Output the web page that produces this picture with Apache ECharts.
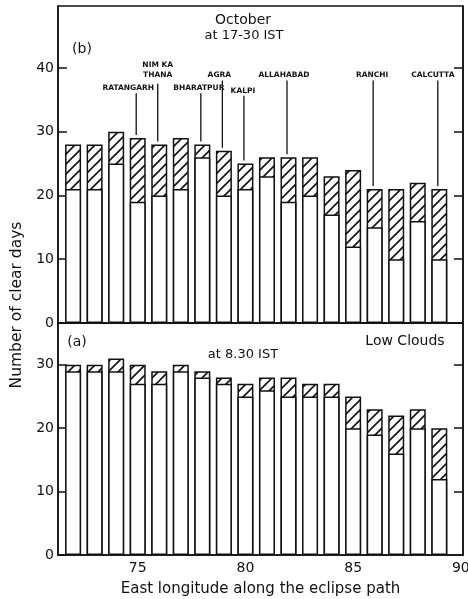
<!DOCTYPE html>
<html>
<head>
<meta charset="utf-8">
<script src="https://cdn.jsdelivr.net/npm/echarts@6/dist/echarts.min.js"></script>
<style>
  html, body { margin: 0; padding: 0; background: #fff; }
  #chart { width: 468px; height: 599px; }
</style>
</head>
<body>
<div id="chart"></div>
<script>
// Station longitudes (deg E) along the eclipse path
const longitude = [72, 73, 74, 75, 76, 77, 78, 79, 80, 81, 82, 83, 84, 85, 86, 87, 88, 89];

// (b) October, 17-30 IST: total bar height and its clear (unhatched) part
const eveningTotal = [28, 28, 30, 29, 28, 29, 28, 27, 25, 26, 26, 26, 23, 24, 21, 21, 22, 21];
const eveningClear = [21, 21, 25, 19, 20, 21, 26, 20, 21, 23, 19, 20, 17, 12, 15, 10, 16, 10];

// (a) 8.30 IST, low clouds
const morningTotal = [30, 30, 31, 30, 29, 30, 29, 28, 27, 28, 28, 27, 27, 25, 23, 22, 23, 20];
const morningClear = [29, 29, 29, 27, 27, 29, 28, 27, 25, 26, 25, 25, 25, 20, 19, 16, 20, 12];

// Named stations and the longitude of the bar each one points to
const stationNames = ['RATANGARH', 'NIM KA\nTHANA', 'BHARATPUR', 'AGRA', 'KALPI', 'ALLAHABAD', 'RANCHI', 'CALCUTTA'];
const stationLon = [75, 76, 78, 79, 80, 82, 86, 89];

// Tick labels
const xTickValues = [75, 80, 85, 90];
const yTicksTop = [0, 10, 20, 30, 40];
const yTicksBottom = [0, 10, 20, 30];

// ---- drawing ----
const FONT = 'DejaVu Sans';
const INK = '#111';

// diagonal "/" hatch pattern
function hatchPattern() {
  const s = 10;
  const c = document.createElement('canvas');
  c.width = s; c.height = s;
  const g = c.getContext('2d');
  g.fillStyle = '#fff';
  g.fillRect(0, 0, s, s);
  g.strokeStyle = INK;
  g.lineWidth = 1.6;
  g.beginPath();
  g.moveTo(-2, s + 2); g.lineTo(s + 2, -2);
  g.moveTo(-s / 2 - 2, s / 2 + 2); g.lineTo(s / 2 + 2, -s / 2 - 2);
  g.moveTo(s / 2 - 2, s * 1.5 + 2); g.lineTo(s * 1.5 + 2, s / 2 - 2);
  g.stroke();
  return c;
}
const hatch = { image: hatchPattern(), repeat: 'repeat' };

// vertical placement (in days) of each station caption
const captionLevel = [36.8, 39.7, 36.8, 38.8, 36.4, 38.8, 38.8, 38.8];
const captionShift = [-8, 0, -2, -3, -1, -3, -1, -5];

const pairs = (vals) => longitude.map((lon, i) => [lon, vals[i]]);

const X_MIN = 71.3, X_MAX = 90.1;

function xAxisFor(gridIndex, showLabels) {
  return {
    type: 'value', gridIndex, min: X_MIN, max: X_MAX,
    splitLine: { show: false },
    axisLine: { show: true, onZero: false, lineStyle: { color: INK, width: 1.5 } },
    axisTick: { show: false },
    axisLabel: showLabels ? {
      show: true, customValues: xTickValues, color: INK,
      fontFamily: FONT, fontSize: 14, margin: 6
    } : { show: false }
  };
}

function yAxisFor(gridIndex, max, ticks, right) {
  return {
    type: 'value', gridIndex, min: 0, max, interval: 10,
    position: right ? 'right' : 'left',
    splitLine: { show: false },
    axisLine: { show: true, lineStyle: { color: INK, width: 1.5 } },
    axisTick: { show: true, inside: true, length: 9, customValues: ticks,
                lineStyle: { color: INK, width: 1.5 } },
    axisLabel: right ? { show: false } : {
      show: true, customValues: ticks, color: INK,
      fontFamily: FONT, fontSize: 14, margin: 4
    }
  };
}

const barBorder = { borderColor: INK, borderWidth: 1.5 };

function barPair(xi, yi, total, clear) {
  return [
    {
      type: 'bar', xAxisIndex: xi, yAxisIndex: yi, barWidth: 16, barGap: '-100%',
      data: pairs(total), silent: true,
      itemStyle: Object.assign({ color: hatch }, barBorder)
    },
    {
      type: 'bar', xAxisIndex: xi, yAxisIndex: yi, barWidth: 16, barGap: '-100%',
      data: pairs(clear), silent: true,
      itemStyle: Object.assign({ color: '#fff' }, barBorder)
    }
  ];
}

// station captions with leader lines down to the bar tops
const captionSeries = {
  type: 'custom', xAxisIndex: 0, yAxisIndex: 0, silent: true, z: 10,
  data: stationLon.map((lon, i) => [lon, captionLevel[i], eveningTotal[longitude.indexOf(lon)], i]),
  renderItem: function (params, api) {
    const i = api.value(3);
    const pText = api.coord([api.value(0), api.value(1)]);
    const pTop = api.coord([api.value(0), api.value(2)]);
    const twoLines = stationNames[i].indexOf('\n') >= 0;
    const x = pText[0] - 1.5;
    const lineStart = pText[1] + (twoLines ? 14 : 5);
    return {
      type: 'group',
      children: [
        {
          type: 'line',
          shape: { x1: x, y1: lineStart, x2: x, y2: pTop[1] - 3 },
          style: { stroke: INK, lineWidth: 1.3 }
        },
        {
          type: 'text',
          x: x + captionShift[i], y: pText[1],
          style: {
            text: stationNames[i], fill: INK, fontFamily: FONT,
            fontSize: 7.5, fontWeight: 'bold', lineHeight: 10,
            align: 'center', verticalAlign: 'middle'
          }
        }
      ]
    };
  }
};

const chart = echarts.init(document.getElementById('chart'), null, { renderer: 'canvas' });

const textStyle = (size) => ({ fill: INK, fontFamily: FONT, fontSize: size });

const gridBase = {
  left: 58, right: 5, show: true, borderColor: INK, borderWidth: 1.5,
  backgroundColor: 'transparent', containLabel: false, outerBoundsMode: 'none'
};

chart.setOption({
  animation: false,
  backgroundColor: '#fff',
  grid: [
    Object.assign({ top: 6, height: 317 }, gridBase),
    Object.assign({ top: 323, height: 232 }, gridBase)
  ],
  xAxis: [
    xAxisFor(0, false),
    Object.assign(xAxisFor(1, true), {
      name: 'East longitude along the eclipse path',
      nameLocation: 'middle', nameGap: 27,
      nameTextStyle: { color: INK, fontFamily: FONT, fontSize: 15 }
    })
  ],
  yAxis: [
    yAxisFor(0, 49.7, yTicksTop, false),
    yAxisFor(1, 36.6, yTicksBottom, false),
    yAxisFor(0, 49.7, yTicksTop.slice(1), true),
    yAxisFor(1, 36.6, yTicksBottom.slice(1), true)
  ],
  graphic: [
    { type: 'text', x: 17, y: 305, rotation: Math.PI / 2, style: Object.assign(textStyle(15.5), { text: 'Number of clear days', align: 'center', verticalAlign: 'middle' }) },
    { type: 'text', x: 243, y: 20, style: Object.assign(textStyle(14), { text: 'October', align: 'center', verticalAlign: 'middle' }) },
    { type: 'text', x: 244, y: 36, style: Object.assign(textStyle(13), { text: 'at 17-30 IST', align: 'center', verticalAlign: 'middle' }) },
    { type: 'text', x: 82, y: 49, style: Object.assign(textStyle(14), { text: '(b)', align: 'center', verticalAlign: 'middle' }) },
    { type: 'text', x: 77, y: 342, style: Object.assign(textStyle(14), { text: '(a)', align: 'center', verticalAlign: 'middle' }) },
    { type: 'text', x: 243, y: 355, style: Object.assign(textStyle(13), { text: 'at 8.30 IST', align: 'center', verticalAlign: 'middle' }) },
    { type: 'text', x: 405, y: 341, style: Object.assign(textStyle(14), { text: 'Low Clouds', align: 'center', verticalAlign: 'middle' }) }
  ],
  series: [
    ...barPair(0, 0, eveningTotal, eveningClear),
    ...barPair(1, 1, morningTotal, morningClear),
    captionSeries
  ]
});
</script>
</body>
</html>
